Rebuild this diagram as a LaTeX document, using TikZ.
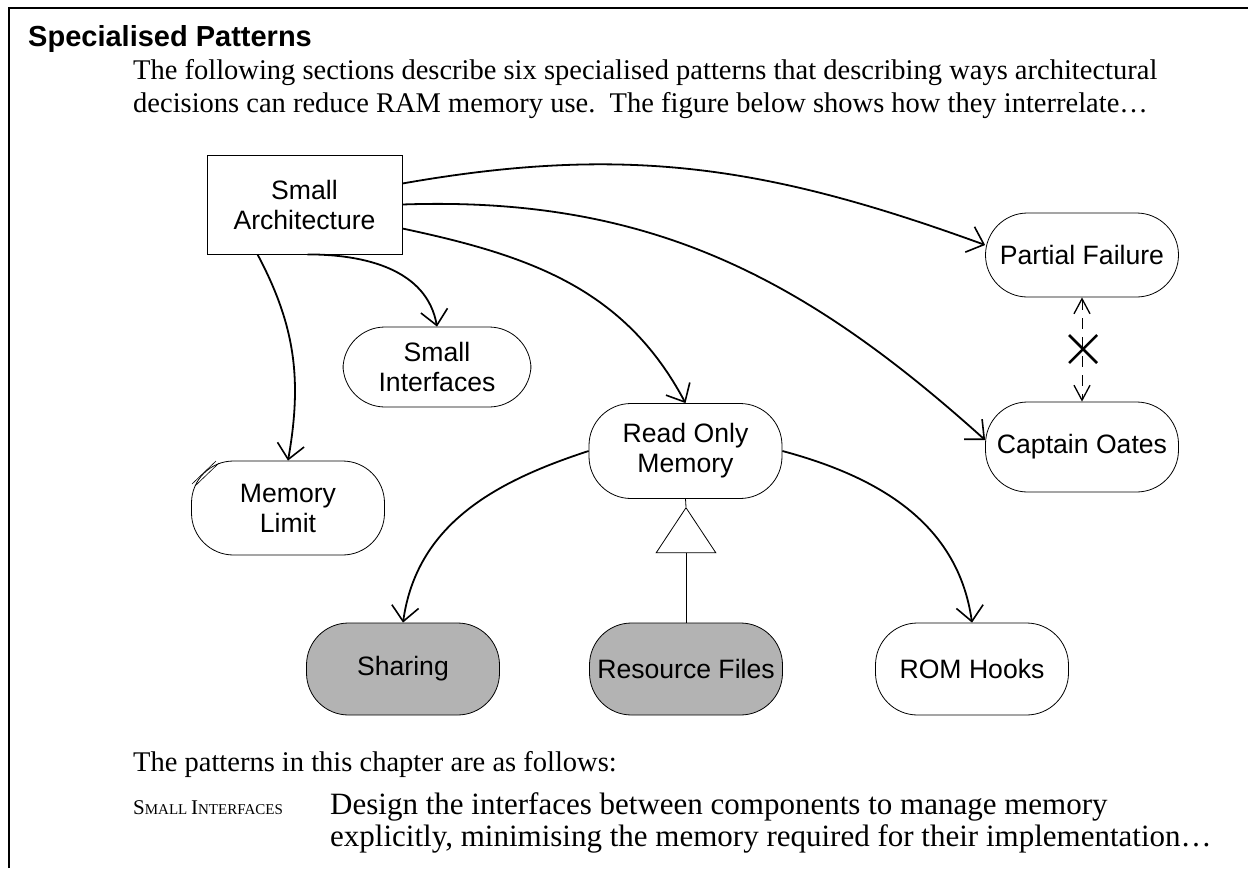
\documentclass[tikz,border=0pt]{standalone}
\usepackage{fontspec}
\setmainfont{Liberation Serif}
\newfontfamily\nodefont{Liberation Sans}
\usetikzlibrary{arrows.meta,shapes.geometric}
\definecolor{pillgray}{RGB}{179,179,179}
\tikzset{
  pill/.style={draw, line width=0.8pt, rounded corners=42pt, minimum width=193pt, minimum height=92pt,
    align=center, inner sep=0pt, font={\nodefont\fontsize{26.6}{30}\selectfont}},
  boxnode/.style={draw, line width=0.8pt, minimum width=195pt, minimum height=99pt,
    align=center, inner sep=0pt, font={\nodefont\fontsize{26.6}{30}\selectfont}},
  grayfill/.style={fill=pillgray},
  rel/.style={line width=1.8pt, -{Straight Barb[length=15pt,width=27pt,line width=1.6pt]}},
  bodytext/.style={anchor=base west, inner sep=0pt, font=\fontsize{28.5}{33}\selectfont},
  dashtip/.tip={Straight Barb[length=15pt,width=16pt,line width=1.3pt]},
}
\begin{document}
\begin{tikzpicture}[x=1pt,y=-1pt]
\useasboundingbox (0,0) rectangle (1248,868);
% frame
\draw[line width=2.2pt] (9,868) -- (9,8) -- (1248,8);
% heading and text
\node[anchor=base west, inner sep=0pt, font={\nodefont\bfseries\fontsize{29}{33}\selectfont}] (head) at (28,46) {Specialised Patterns};
\node[bodytext] (t1) at (133,79) {The following sections describe six specialised patterns that describing ways architectural};
\node[bodytext] (t2) at (133,112) {decisions can reduce RAM memory use.\ \ The figure below shows how they interrelate\ldots};
\node[bodytext] (t3) at (133,771) {The patterns in this chapter are as follows:};
\node[bodytext, font=\fontsize{15}{18}\selectfont] (t4) at (133,814) {{\fontsize{21}{24}\selectfont S}MALL {\fontsize{21}{24}\selectfont I}NTERFACES};
\node[bodytext, font=\fontsize{31}{33}\selectfont] (t5) at (330,814) {Design the interfaces between components to manage memory};
\node[bodytext, font=\fontsize{31}{33}\selectfont] (t6) at (330,846) {explicitly, minimising the memory required for their implementation\ldots};
% nodes
\node[boxnode] (SA) at (304.5,204.5) {Small\\Architecture};
\node[pill, minimum height=84pt] (PF) at (1082,255) {Partial Failure};
\node[pill, minimum height=90pt] (CO) at (1082,447) {Captain Oates};
\node[pill, minimum width=188pt, minimum height=80pt] (SI) at (437,367) {Small\\Interfaces};
\node[pill, minimum height=95pt] (ROM) at (685.5,451) {Read Only\\Memory};
\node[pill, minimum height=94pt] (ML) at (288,508) {Memory\\Limit};
\node[pill, grayfill] (SH) at (403,669) {Sharing};
\node[pill, grayfill] (RF) at (686,669) {Resource Files};
\node[pill] (RH) at (972,669) {ROM Hooks};
% mark on Memory Limit
\draw[line width=0.6pt] (192,484) -- (216,461);
\draw[line width=0.6pt] (195,486) -- (219,463);
% connectors
\draw[rel] ([yshift=21pt]SA.east) to[out=10, in=160] ([yshift=10pt]PF.west);
\draw[rel] ([yshift=0pt]SA.east) to[out=2, in=138] ([yshift=7pt]CO.west);
\draw[rel] ([yshift=-24pt]SA.east) to[out=-12, in=118] (ROM.north);
\draw[rel] ([xshift=3pt]SA.south) to[out=0, in=100] (SI.north);
\draw[rel] ([xshift=-47pt]SA.south) to[out=-62, in=80] (ML.north);
\draw[rel] (ROM.west) to[out=198, in=82] (SH.north);
\draw[rel] (ROM.east) to[out=-15, in=98] (RH.north);
% inheritance
\coordinate (tapex) at (686,507);
\node[draw, line width=0.8pt, isosceles triangle, isosceles triangle apex angle=67, shape border rotate=90, minimum height=45pt, inner sep=0pt, anchor=apex] (tri) at (tapex) {};
\draw[line width=0.8pt] (ROM.south) -- (tri.apex);
\draw[line width=0.8pt] (tri.south) -- (RF.north);
% dashed double arrow with cross
\draw[line width=1pt, dash pattern=on 11pt off 8pt, {dashtip}-{dashtip}] (PF.south) -- (CO.north);
\coordinate (xc) at (1083,349);
\draw[line width=2.5pt] ([xshift=-14pt,yshift=-14pt]xc) -- ([xshift=14pt,yshift=14pt]xc);
\draw[line width=2.5pt] ([xshift=-14pt,yshift=14pt]xc) -- ([xshift=14pt,yshift=-14pt]xc);
\end{tikzpicture}
\end{document}
